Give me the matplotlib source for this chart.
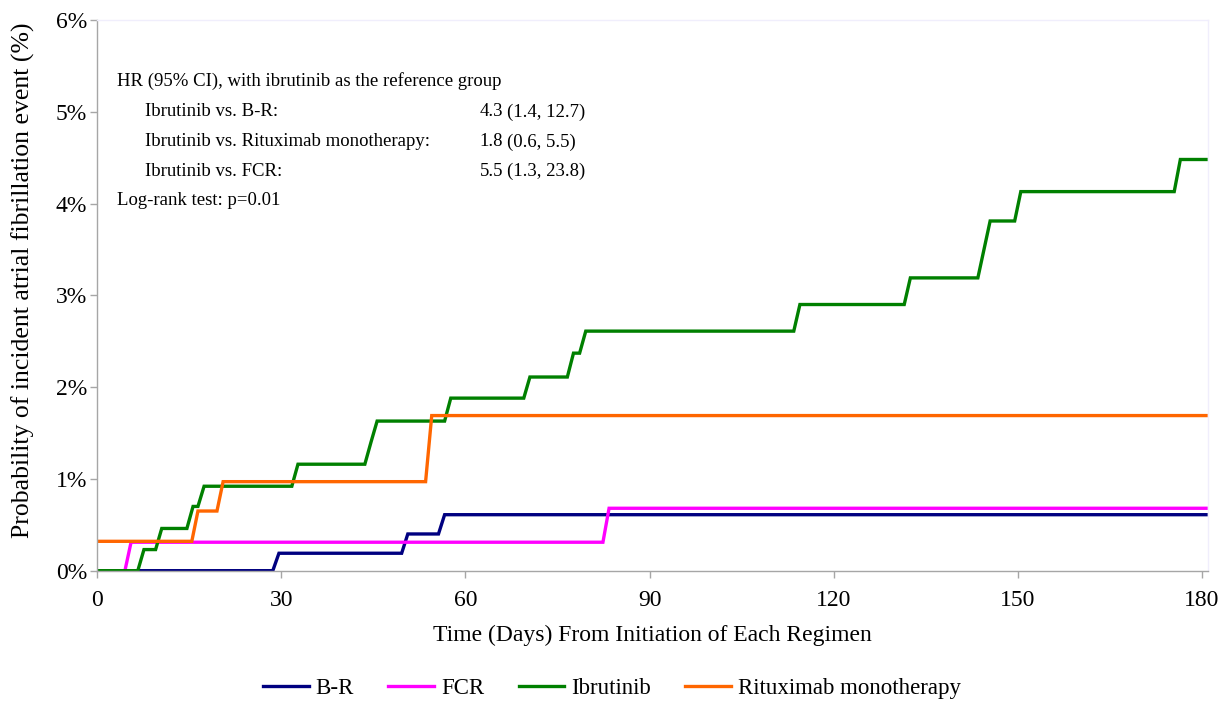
import matplotlib
matplotlib.use("Agg")
import matplotlib.pyplot as plt
from matplotlib.ticker import FuncFormatter

plt.rcParams['font.family'] = ['Liberation Serif', 'DejaVu Serif']

# ---- data (percent) ----
series_names = ["B-R", "FCR", "Ibrutinib", "Rituximab monotherapy"]
series_colors = ["#000080", "#FF00FF", "#008000", "#FF6600"]

br_start = 0.0
br_days = [28.6, 49.6, 55.6]
br_vals = [0.19, 0.40, 0.61]

fcr_start = 0.0
fcr_days = [4.5, 82.4]
fcr_vals = [0.31, 0.68]

ibr_start = 0.0
ibr_days = [6.6, 9.5, 14.6, 16.4, 31.7, 43.6, 44.6, 56.6, 69.5, 76.6, 78.6,
            113.5, 131.5, 143.5, 144.5, 149.5, 175.5]
ibr_vals = [0.23, 0.46, 0.70, 0.92, 1.16, 1.40, 1.63, 1.88, 2.11, 2.37, 2.61,
            2.90, 3.19, 3.50, 3.81, 4.13, 4.48]

rit_start = 0.32
rit_days = [15.4, 19.5, 53.5]
rit_vals = [0.65, 0.97, 1.69]

end_day = 180.7

x_ticks = [0, 30, 60, 90, 120, 150, 180]
y_ticks = [0, 1, 2, 3, 4, 5, 6]

hr_title = "HR (95% CI), with ibrutinib as the reference group"
hr_labels = ["Ibrutinib vs. B-R:", "Ibrutinib vs. Rituximab monotherapy:", "Ibrutinib vs. FCR:"]
hr_values = ["4.3", "1.8", "5.5"]
hr_cis = ["(1.4, 12.7)", "(0.6, 5.5)", "(1.3, 23.8)"]
logrank = "Log-rank test: p=0.01"

RAMP = 1.0  # drawing width of each jump (days)


def km_path(start, days, vals, end):
    xs, ys = [0.0], [start]
    cur = start
    for d, v in zip(days, vals):
        xs.append(d); ys.append(cur)
        xs.append(d + RAMP); ys.append(v)
        cur = v
    xs.append(end); ys.append(cur)
    return xs, ys


fig = plt.figure(figsize=(12.24, 7.01), dpi=100)
ax = fig.add_axes([0.0795, 0.1859, 0.9074, 0.7856])

all_series = [(br_start, br_days, br_vals), (fcr_start, fcr_days, fcr_vals),
              (ibr_start, ibr_days, ibr_vals), (rit_start, rit_days, rit_vals)]
for (s, d, v), name, col in zip(all_series, series_names, series_colors):
    xs, ys = km_path(s, d, v, end_day)
    ax.plot(xs, ys, color=col, lw=2.4, label=name, solid_joinstyle='miter')

ax.set_xlim(0, 181)
ax.set_ylim(0, 6)
ax.set_xticks(x_ticks)
ax.set_yticks(y_ticks)
ax.yaxis.set_major_formatter(FuncFormatter(lambda v, p: f"{int(round(v))}%"))

for side in ['left', 'bottom']:
    ax.spines[side].set_color('#A6A6A6')
    ax.spines[side].set_linewidth(1.0)
for side in ['top', 'right']:
    ax.spines[side].set_color('#F0EEFC')
    ax.spines[side].set_linewidth(1.0)
ax.tick_params(axis='both', colors='#A6A6A6', length=5, width=1.0, labelcolor='black',
               labelsize=17, direction='out')
ax.tick_params(axis='x', pad=9)
ax.tick_params(axis='y', pad=2.5)

ax.set_xlabel("Time (Days) From Initiation of Each Regimen", fontsize=17, labelpad=10)
ax.set_ylabel("Probability of incident atrial fibrillation event (%)", fontsize=18.5)
ax.yaxis.set_label_coords(-0.056, 0.528)

fs = 13.5
ax.text(0.0177, 0.889, hr_title, transform=ax.transAxes, fontsize=fs, va='center', ha='left')
ys_txt = [0.833, 0.7785, 0.7256]
for yy, lab, val, ci in zip(ys_txt, hr_labels, hr_values, hr_cis):
    ax.text(0.0429, yy, lab, transform=ax.transAxes, fontsize=fs, va='center', ha='left')
    ax.text(0.3443, yy, val, transform=ax.transAxes, fontsize=fs, va='center', ha='left')
    ax.text(0.369, yy, ci, transform=ax.transAxes, fontsize=fs, va='center', ha='left')
ax.text(0.0177, 0.6729, logrank, transform=ax.transAxes, fontsize=fs, va='center', ha='left')

fig.legend(loc='center', bbox_to_anchor=(0.5, 0.018), ncol=4, frameon=False, fontsize=16.5,
           handlelength=2.0, handletextpad=0.3, columnspacing=1.5)

fig.savefig("out.png", dpi=100)
